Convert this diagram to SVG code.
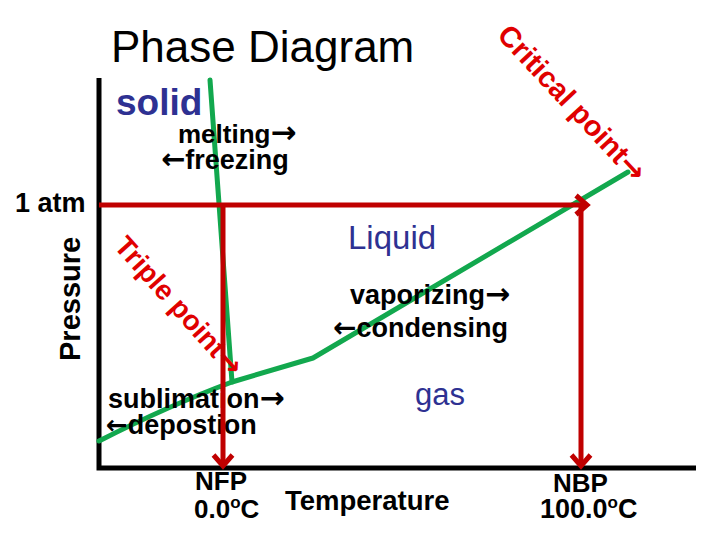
<svg xmlns="http://www.w3.org/2000/svg" width="720" height="540" viewBox="0 0 720 540">
<defs>
<style>
.t{font-family:"Liberation Sans",Arial,sans-serif;fill:#000}
.b{font-weight:bold}
.navy{fill:#2E3192}
.red{fill:#E00000}
.ar{font-family:"DejaVu Sans",sans-serif;font-weight:bold}
.ax{stroke:#000;stroke-width:5;fill:none}
.grn{stroke:#12A84E;stroke-width:5;fill:none;stroke-linecap:round;stroke-linejoin:round}
.rl{stroke:#C00000;stroke-width:5;fill:none}
</style>
<marker id="ah" viewBox="0 0 24 24" markerWidth="24" markerHeight="24" refX="18" refY="12" orient="auto" markerUnits="userSpaceOnUse">
<path d="M7,2.5 L18,12 L7,21.5" fill="none" stroke="#C00000" stroke-width="5"/>
</marker>
</defs>
<rect width="720" height="540" fill="#fff"/>
<g id="axes">
<path class="ax" d="M99,78 V468 H696"/>
</g>
<g id="curves">
<path class="grn" d="M210,80 L232,382"/>
<path class="grn" d="M99,441 Q170,405 232,382 L313,358 L628,172"/>
</g>
<g id="labels">
<text class="t" x="111" y="62" font-size="44">Phase Diagram</text>
<text class="t b navy" x="116" y="115" font-size="37">solid</text>
<text class="t b" x="178" y="143" font-size="26">melting<tspan class="ar" font-size="31">→</tspan></text>
<text class="t b" x="161" y="169" font-size="27"><tspan class="ar" font-size="29">←</tspan>freezing</text>
<text class="t b" x="15" y="212" font-size="27">1 atm</text>
<text class="t b" transform="translate(80,361) rotate(-90)" font-size="29">Pressure</text>
<text class="t navy" x="348" y="249" font-size="33">Liquid</text>
<text class="t b" x="350" y="304" font-size="27">vaporizing<tspan class="ar" font-size="30">→</tspan></text>
<text class="t b" x="333" y="337" font-size="27"><tspan class="ar" font-size="28">←</tspan>condensing</text>
<text class="t navy" x="415" y="405" font-size="31">gas</text>
<text class="t b" x="108" y="408" font-size="27">sublimation<tspan class="ar" font-size="30">→</tspan></text>
<text class="t b" x="106" y="434" font-size="27"><tspan class="ar" font-size="26">←</tspan>depostion</text>
<text class="t b" x="195" y="490" font-size="26">NFP</text>
<text class="t b" x="194" y="518" font-size="26">0.0<tspan font-size="17" dy="-10">o</tspan><tspan dy="10">C</tspan></text>
<text class="t b" x="285" y="510" font-size="27.5">Temperature</text>
<text class="t b" x="553" y="492" font-size="26">NBP</text>
<text class="t b" x="540" y="518" font-size="27">100.0<tspan font-size="17" dy="-10">o</tspan><tspan dy="10">C</tspan></text>
<text class="t b red" transform="translate(113,247) rotate(48)" font-size="28">Triple point<tspan class="ar" font-size="30">→</tspan></text>
<text class="t b red" transform="translate(496,36) rotate(47)" font-size="29">Critical point<tspan class="ar" font-size="30">→</tspan></text>
</g>
<g id="connectors">
<path class="rl" d="M99,205 H587" marker-end="url(#ah)"/>
<path class="rl" d="M223,205 V466" marker-end="url(#ah)"/>
<path class="rl" d="M581,205 V466" marker-end="url(#ah)"/>
</g>
</svg>
